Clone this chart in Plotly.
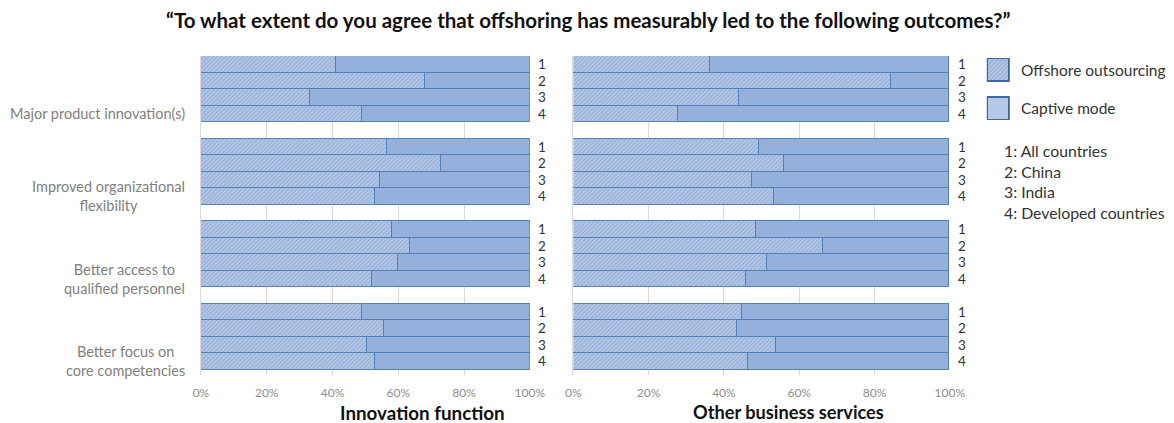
import plotly.graph_objects as go

# The page body keeps the browser's default 8px margin.  Positions below are given in
# target picture pixels and converted with the measured horizontal mapping of the capture.
OFF = 8
FW, FH = 1200, 423 - OFF
CAP_A, CAP_B = 0.9802, 7.2

outcomes = ["Major product innovation(s)",
            "Improved organizational<br>flexibility",
            "Better access to<br>qualified personnel",
            "Better focus on<br>core competencies"]
country_codes = ["1", "2", "3", "4"]
key_labels = ["1: All countries", "2: China", "3: India", "4: Developed countries"]
series_names = ["Offshore outsourcing", "Captive mode"]
panel_titles = ["Innovation function", "Other business services"]
tick_values = [0, 20, 40, 60, 80, 100]
tick_labels = ["0%", "20%", "40%", "60%", "80%", "100%"]

# Offshore outsourcing share (%) per outcome, rows = countries 1..4
innov_offshore = [[41, 68, 33, 49],
                  [56.5, 73, 54.5, 53],
                  [58, 63.5, 60, 52],
                  [49, 55.5, 50.5, 53]]
innov_captive = [[59, 32, 67, 51],
                 [43.5, 27, 45.5, 47],
                 [42, 36.5, 40, 48],
                 [51, 44.5, 49.5, 47]]
other_offshore = [[36.5, 84.5, 44, 28],
                  [49.5, 56, 47.5, 53.5],
                  [48.5, 66.5, 51.5, 46],
                  [45, 43.5, 54, 46.5]]
other_captive = [[63.5, 15.5, 56, 72],
                 [50.5, 44, 52.5, 46.5],
                 [51.5, 33.5, 48.5, 54],
                 [55, 56.5, 46, 53.5]]

HATCH = dict(shape="/", fgcolor="#7896CB", bgcolor="#B3C7E6", size=3, solidity=0.4)
SOLID = "#95B1DB"
EDGE = "#4F81BD"

fig = go.Figure()

def ypos():
    return [g * 5 + i for g in range(len(outcomes)) for i in range(len(country_codes))]

panels = [(innov_offshore, innov_captive, "x", "y"), (other_offshore, other_captive, "x2", "y2")]
for pi, (off, cap, xa, ya) in enumerate(panels):
    flat_off = [v for row in off for v in row]
    flat_cap = [v for row in cap for v in row]
    fig.add_trace(go.Bar(x=flat_off, y=ypos(), orientation="h", width=1,
                         marker=dict(color="#B3C7E6", pattern=HATCH,
                                     line=dict(color="#5B7FB8", width=1)),
                         name=series_names[0], showlegend=False, xaxis=xa, yaxis=ya))
    fig.add_trace(go.Bar(x=flat_cap, y=ypos(), orientation="h", width=1,
                         marker=dict(color=SOLID, line=dict(color=EDGE, width=1.3)),
                         name=series_names[1], showlegend=False, xaxis=xa, yaxis=ya))

# legend swatches as a tiny bar subplot
fig.add_trace(go.Bar(x=[1], y=[0], orientation="h", width=0.6,
                     marker=dict(color="#B3C7E6", pattern=HATCH, line=dict(color="#41679F", width=2.5)),
                     showlegend=False, xaxis="x3", yaxis="y3", hoverinfo="skip"))
fig.add_trace(go.Bar(x=[1], y=[1], orientation="h", width=0.6,
                     marker=dict(color="#B4C9E7", line=dict(color="#41679F", width=2.5)),
                     showlegend=False, xaxis="x3", yaxis="y3", hoverinfo="skip"))

def fx(p):
    page = (p - CAP_B) / CAP_A
    return (page - OFF) / FW

def fy(p):
    return 1 - (p - OFF) / FH

def px_x(a, b):
    return [fx(a), fx(b)]

def px_y(top, bottom):
    return [fy(bottom), fy(top)]

ydom = px_y(56, 374.5)
xcommon = dict(range=[0, 100], tickmode="array", tickvals=tick_values, ticktext=tick_labels,
               showgrid=True, gridcolor="#D9D9D9", gridwidth=1, zeroline=False, showline=False,
               tickfont=dict(family="Lato", size=12, color="#8C8C8C"),
               ticklabelstandoff=9, fixedrange=True)
ycommon = dict(range=[18.8, -0.5], showticklabels=False, showgrid=False, zeroline=False,
               showline=True, linecolor="#D9D9D9", linewidth=1, fixedrange=True)

fig.update_layout(
    width=FW, height=FH, margin=dict(l=0, r=0, t=0, b=0),
    paper_bgcolor="white", plot_bgcolor="white",
    barmode="stack", bargap=0,
    xaxis=dict(domain=px_x(200, 529), anchor="y", **xcommon),
    yaxis=dict(domain=ydom, anchor="x", **ycommon),
    xaxis2=dict(domain=px_x(572.5, 949), anchor="y2", **xcommon),
    yaxis2=dict(domain=ydom, anchor="x2", **ycommon),
    xaxis3=dict(domain=px_x(986, 1009), anchor="y3", range=[0, 1], visible=False, fixedrange=True),
    yaxis3=dict(domain=px_y(58, 120), anchor="x3", range=[1.3, -0.3], visible=False, fixedrange=True),
    font=dict(family="Lato", color="#333333"),
)

ann = []
ann.append(dict(text="<b>\u201cTo what extent do you agree that offshoring has measurably led to the following outcomes?\u201d</b>",
                xref="paper", yref="paper", x=fx(588), y=fy(20), xanchor="center", yanchor="middle",
                showarrow=False, font=dict(family="Lato", size=20.5, color="#111111")))
# panel titles
for t, cx, sz in zip(panel_titles, [422, 788], [18.8, 18.2]):
    ann.append(dict(text="<b>" + t + "</b>", xref="paper", yref="paper", x=fx(cx), y=fy(412),
                    xanchor="center", yanchor="middle", showarrow=False,
                    font=dict(family="Lato", size=sz, color="#111111")))
# outcome labels
for g, lab in enumerate(outcomes):
    ann.append(dict(text=lab, xref="paper", yref="y", x=fx(186), y=g * 5 + 3,
                    xanchor="right", yanchor="middle", align="center", showarrow=False,
                    font=dict(family="Lato", size=14.5, color="#7F7F7F")))
# country code labels right of each panel
for xd, ya in [("x domain", "y"), ("x2 domain", "y2")]:
    for g in range(len(outcomes)):
        for i, c in enumerate(country_codes):
            ann.append(dict(text=c, xref=xd, yref=ya, x=1, y=g * 5 + i, xshift=6,
                            xanchor="left", yanchor="middle", showarrow=False,
                            font=dict(family="Lato", size=13.5, color="#333333")))
# legend texts
for name, yy in zip(series_names, [70, 108]):
    ann.append(dict(text=name, xref="paper", yref="paper", x=fx(1018), y=fy(yy),
                    xanchor="left", yanchor="middle", showarrow=False,
                    font=dict(family="Lato", size=15.5, color="#333333")))
for lab, yy in zip(key_labels, [150, 171, 192, 213]):
    ann.append(dict(text=lab, xref="paper", yref="paper", x=fx(1001), y=fy(yy),
                    xanchor="left", yanchor="middle", showarrow=False,
                    font=dict(family="Lato", size=15.8, color="#333333")))
fig.update_layout(annotations=ann)

fig.write_html("out.html", config={"displayModeBar": False})
